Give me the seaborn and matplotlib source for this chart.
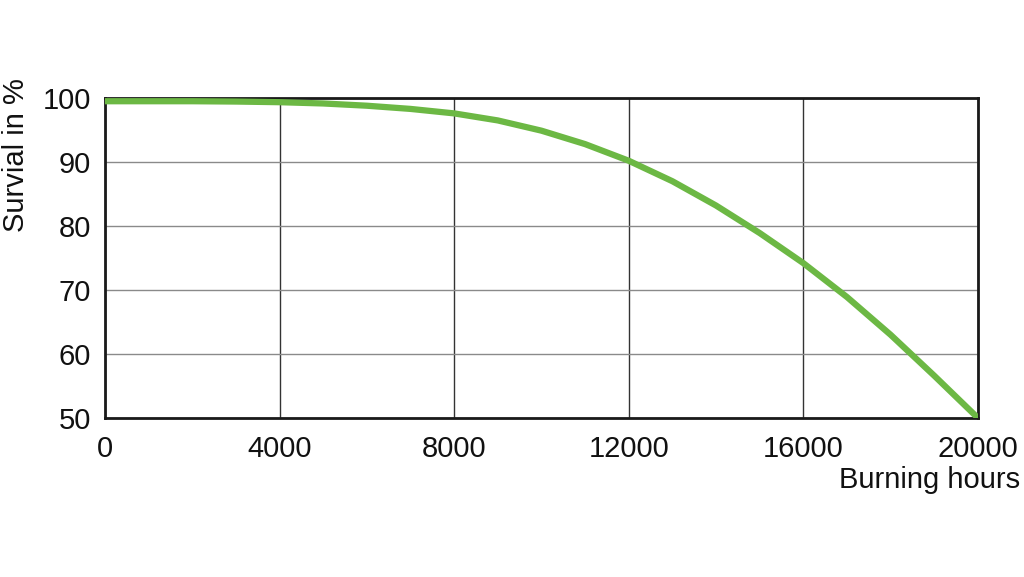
import matplotlib
matplotlib.use('Agg')

import pandas as pd
import matplotlib.pyplot as plt
import seaborn as sns

# --------------------------------------------------
# Data
# --------------------------------------------------
hours = [0, 1000, 2000, 3000, 4000, 5000, 6000, 7000, 8000, 9000, 10000,
         11000, 12000, 13000, 14000, 15000, 16000, 17000, 18000, 19000, 20000]
survival = [99.5, 99.5, 99.5, 99.45, 99.35, 99.15, 98.8, 98.3, 97.6, 96.5, 94.9,
            92.8, 90.2, 87.0, 83.2, 78.9, 74.2, 68.9, 63.0, 56.6, 50.0]

x_ticks = [0, 4000, 8000, 12000, 16000, 20000]
y_ticks = [50, 60, 70, 80, 90, 100]

data = pd.DataFrame({'hours': hours, 'survival': survival})

sns.set_style("white")
plt.rcParams['font.family'] = ['Liberation Sans', 'DejaVu Sans']

fig = plt.figure(figsize=(10.24, 5.77), dpi=100)
ax = fig.add_axes([0.1025, 0.2756, 0.8525, 0.5545])

sns.lineplot(data=data, x='hours', y='survival', ax=ax,
             color='#6cb844', linewidth=4.5, solid_capstyle='round',
             solid_joinstyle='round', zorder=3)

ax.set_xlim(0, 20000)
ax.set_ylim(50, 100)
ax.set_xticks(x_ticks)
ax.set_yticks(y_ticks)
ax.set_xticklabels([str(v) for v in x_ticks])
ax.set_yticklabels([str(v) for v in y_ticks])
ax.tick_params(axis='both', length=0, labelsize=21, colors='#111111')
ax.tick_params(axis='y', pad=10)
ax.tick_params(axis='x', pad=12)

ax.xaxis.grid(True, color='#333333', linewidth=1.0)
ax.yaxis.grid(True, color='#8a8a8a', linewidth=1.0)
ax.set_axisbelow(True)

for s in ax.spines.values():
    s.set_visible(True)
    s.set_color('#1a1a1a')
    s.set_linewidth(2)

ax.set_xlabel('')
ax.set_ylabel('')
fig.text(0.0156, 0.731, 'Survial in %', rotation=90, ha='center', va='center',
         fontsize=21, color='#111111')
fig.text(0.996, 0.168, 'Burning hours', ha='right', va='center',
         fontsize=21, color='#111111')

fig.savefig('out.png', dpi=100)
plt.close(fig)
